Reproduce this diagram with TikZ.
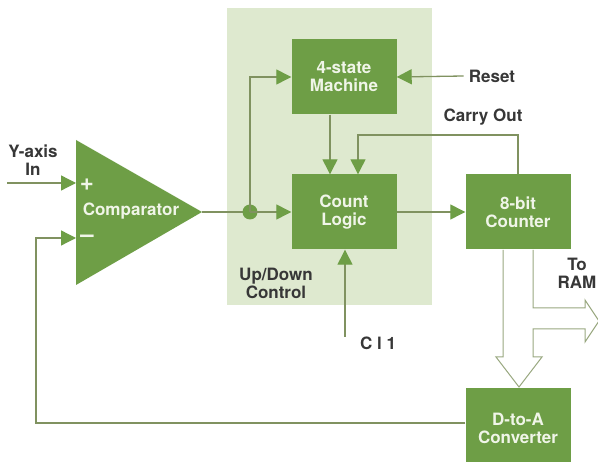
\documentclass[tikz,border=0pt]{standalone}
\usepackage{fontspec}
\setmainfont{TeX Gyre Heros}
\usetikzlibrary{arrows.meta}
\usetikzlibrary{positioning}
\definecolor{boxgreen}{RGB}{110,158,70}
\definecolor{panelgreen}{RGB}{222,233,207}
\definecolor{wiregreen}{RGB}{128,146,96}
\definecolor{labelgray}{RGB}{55,55,55}
\definecolor{boxtext}{RGB}{240,245,232}

\begin{document}
\begin{tikzpicture}[x=1pt,y=-1pt,
    blk/.style={fill=boxgreen,text=boxtext,font=\bfseries\fontsize{17}{18}\selectfont,align=center,minimum width=105pt,minimum height=75pt,inner sep=0pt},
    lbl/.style={text=labelgray,font=\bfseries\fontsize{17}{18}\selectfont,align=center,inner sep=0pt},
    sign/.style={text=boxtext,font=\bfseries\fontsize{24}{24}\selectfont,inner sep=0pt},
    wire/.style={draw=wiregreen,line width=1.3pt},
    flow/.style={wire,-{Triangle[length=15pt,width=15pt,color=boxgreen,fill=boxgreen]}},
    hollow/.style={draw=wiregreen!80,line width=1pt,line join=miter}]
\useasboundingbox (0,0) rectangle (598,462);
\clip (0,0) rectangle (598,462);
\fill[white] (0,0) rectangle (598,462);
% shaded control area
\fill[panelgreen] (227,8) rectangle (432,305);
% blocks
\node[blk] (fsm) at (344,77) {4-state\\Machine};
\node[blk] (logic) at (344,212) {Count\\Logic};
\node[blk] (counter) at (518,212) {8-bit\\Counter};
\node[blk,minimum height=80pt] (dac) at (518,428) {D-to-A\\Converter};
% comparator
\fill[boxgreen] (76,140) -- (202,212) -- (76,285) -- cycle;
\node[blk,fill=none,minimum width=0pt,minimum height=0pt] (comp) at (131,211) {Comparator};
\node[sign] (plus) at (87,185) {+};
\node[sign] (minus) at (87,239) {--};
\coordinate (tip) at (202,212);
\coordinate (inp) at (76,183);
\coordinate (inm) at (76,238);
\coordinate (yin) at (7,183);
\coordinate (fb) at (36,238);
\coordinate (dot) at (250,212);
\coordinate (co) at (358,135);
\coordinate (clk) at (345,337);
% labels
\node[lbl] (yaxis) at (33,160) {Y-axis\\In};
\node[lbl] (reset) at (492,76) {Reset};
\node[lbl] (carry) at (483,117) {Carry Out};
\node[lbl] (updown) at (276,283) {Up/Down\\Control};
\node[lbl] (clock) at (378,343) {C l 1};
\node[lbl] (ram) at (577,273) {To\\RAM};
% connections
\draw[flow] (yin) -- (inp);
\draw[flow] ([yshift=5pt]dac.west) -| (fb) -- (inm);
\draw[wire] (tip) -- (dot);
\fill[boxgreen] (dot) circle (7.5pt);
\draw[flow] (dot) -- (logic.west);
\draw[flow] (dot) |- (fsm.west);
\draw[flow] ([xshift=-5pt]reset.west) -- (fsm.east);
\draw[flow] ([xshift=-14pt]fsm.south) -- ([xshift=-14pt]logic.north);
\draw[flow] (counter.north) |- (co) -- (co |- logic.north);
\draw[flow] (logic.east) -- (counter.west);
\draw[flow] (clk) -- (clk |- logic.south);
% wide data paths
\draw[hollow] (503,250) -- (503,357) -- (496,357) -- (519,387) -- (542,357) -- (533,357)
    -- (533,329) -- (585,329) -- (585,342) -- (599,321) -- (585,300) -- (585,308) -- (533,308) -- (533,250);
\end{tikzpicture}
\end{document}
